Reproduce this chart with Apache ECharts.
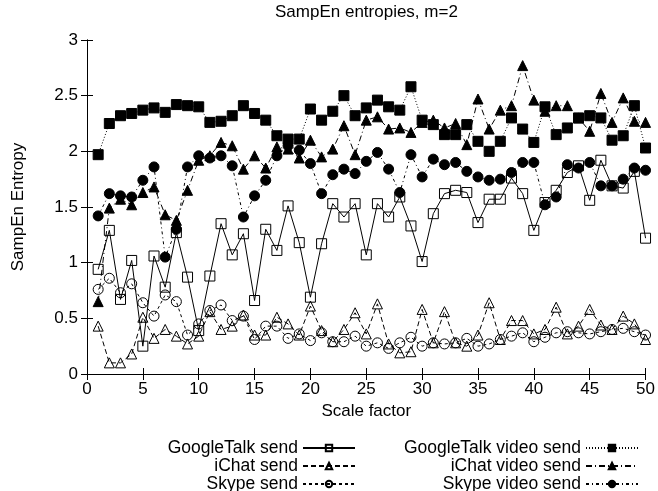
<!DOCTYPE html>
<html>
<head>
<meta charset="utf-8">
<script src="https://cdn.jsdelivr.net/npm/echarts@6/dist/echarts.min.js"></script>
<style>html,body{margin:0;padding:0;background:#fff;}#c{width:658px;height:491px;}</style>
</head>
<body>
<div id="c"></div>
<script>
var scaleFactors = [1,2,3,4,5,6,7,8,9,10,11,12,13,14,15,16,17,18,19,20,21,22,23,24,25,26,27,28,29,30,31,32,33,34,35,36,37,38,39,40,41,42,43,44,45,46,47,48,49,50];
var googleTalkSend = [0.94,1.29,0.67,1.02,0.25,1.06,0.78,1.27,0.87,0.39,0.88,1.35,1.07,1.26,0.66,1.30,1.11,1.51,1.18,0.69,1.17,1.53,1.41,1.53,1.07,1.53,1.41,1.59,1.33,1.01,1.44,1.62,1.65,1.63,1.36,1.57,1.57,1.76,1.62,1.29,1.54,1.65,1.81,1.87,1.56,1.92,1.69,1.67,1.82,1.22];
var iChatSend = [0.43,0.10,0.10,0.18,0.51,0.32,0.40,0.34,0.27,0.34,0.56,0.40,0.43,0.53,0.35,0.35,0.51,0.45,0.35,0.61,0.39,0.29,0.40,0.55,0.36,0.63,0.27,0.19,0.20,0.58,0.28,0.56,0.28,0.25,0.35,0.64,0.31,0.48,0.48,0.36,0.40,0.60,0.36,0.43,0.58,0.44,0.40,0.52,0.45,0.31];
var skypeSend = [0.76,0.86,0.73,0.81,0.64,0.52,0.71,0.65,0.35,0.45,0.57,0.62,0.48,0.52,0.31,0.43,0.43,0.32,0.36,0.30,0.37,0.29,0.29,0.34,0.25,0.28,0.23,0.28,0.33,0.25,0.28,0.27,0.28,0.32,0.25,0.27,0.31,0.34,0.37,0.29,0.33,0.37,0.38,0.37,0.36,0.38,0.40,0.41,0.38,0.35];
var googleTalkVideoSend = [1.97,2.25,2.32,2.34,2.37,2.39,2.35,2.42,2.41,2.40,2.26,2.27,2.32,2.41,2.34,2.28,2.14,2.11,2.11,2.38,2.28,2.36,2.50,2.32,2.39,2.46,2.40,2.37,2.58,2.28,2.24,2.15,2.15,2.24,2.09,2.00,2.09,2.30,2.20,2.08,2.40,2.15,2.21,2.30,2.32,2.30,2.10,2.14,2.41,2.03];
var iChatVideoSend = [0.65,1.49,1.57,1.52,1.63,1.68,1.43,1.38,1.65,1.92,1.96,2.08,2.05,1.84,1.96,1.85,2.04,2.02,1.94,2.10,1.95,2.02,2.23,1.97,2.28,2.31,2.20,2.21,2.17,2.26,2.28,2.21,2.25,2.06,2.47,2.20,2.37,2.41,2.77,2.46,2.36,2.41,2.41,2.30,2.18,2.52,2.26,2.48,2.27,2.26];
var skypeVideoSend = [1.42,1.62,1.60,1.59,1.74,1.86,1.05,1.30,1.86,1.96,1.94,1.96,1.87,1.41,1.60,1.74,1.96,2.05,2.01,1.89,1.62,1.79,1.84,1.80,1.91,1.99,1.84,1.63,1.97,1.77,1.93,1.88,1.90,1.82,1.77,1.74,1.75,1.81,1.90,1.90,1.52,1.59,1.88,1.85,1.90,1.69,1.69,1.75,1.85,1.83];
var seriesNames = ['GoogleTalk send','iChat send','Skype send','GoogleTalk video send','iChat video send','Skype video send'];

function pairs(ys){ return scaleFactors.map(function(x,i){ return [x, ys[i]]; }); }
var FONT = 'Liberation Sans';
var FS = 17;
function mk(name, ys, symbol, filled, dash, size){
  return {
    name: name, type: 'line', data: pairs(ys), symbol: symbol, symbolSize: size,
    showAllSymbol: true, animation: false,
    lineStyle: {color: '#000', width: 1, type: dash},
    itemStyle: filled ? {color: '#000', borderColor: '#000', borderWidth: 1} : {color: 'rgba(0,0,0,0)', borderColor: '#000', borderWidth: 1},
    emphasis: {disabled: true}
  };
}
var axisCommon = {
  axisLine: {show: true, lineStyle: {color: '#000', width: 1}},
  axisTick: {show: true, inside: true, length: 6, lineStyle: {color: '#000'}},
  splitLine: {show: false}
};
function legendAt(names, right){
  return {data: names, orient: 'vertical', align: 'right', right: right, top: 439, height: 80,
    itemWidth: 52, itemHeight: 8, itemGap: 0, selectedMode: false, padding: 0,
    textStyle: {fontFamily: FONT, fontSize: 17.5, color: '#000', lineHeight: 16}};
}
var chart = echarts.init(document.getElementById('c'), null, {renderer: 'canvas'});
chart.setOption({
  backgroundColor: '#fff',
  animation: false,
  title: {text: 'SampEn entropies, m=2', left: 275, top: 4, padding: 0, textStyle: {fontFamily: FONT, fontSize: FS, fontWeight: 'normal', color: '#000'}},
  grid: {left: 87, right: 10, top: 40, bottom: 117, containLabel: false},
  xAxis: [
    Object.assign({type: 'value', min: 0, max: 50, interval: 5, position: 'bottom',
      name: 'Scale factor', nameLocation: 'middle', nameGap: 29,
      nameTextStyle: {fontFamily: FONT, fontSize: FS, color: '#000'},
      axisLabel: {fontFamily: FONT, fontSize: FS, color: '#000', margin: 7}}, axisCommon),
    Object.assign({type: 'value', min: 0, max: 50, interval: 5, position: 'top', axisLabel: {show: false}}, axisCommon)
  ],
  yAxis: [
    Object.assign({type: 'value', min: 0, max: 3, interval: 0.5, position: 'left',
      name: 'SampEn Entropy', nameLocation: 'middle', nameGap: 60,
      nameTextStyle: {fontFamily: FONT, fontSize: FS, color: '#000'},
      axisLabel: {fontFamily: FONT, fontSize: FS, color: '#000', margin: 9}}, axisCommon),
    Object.assign({type: 'value', min: 0, max: 3, interval: 0.5, position: 'right', axisLabel: {show: false}}, axisCommon)
  ],
  legend: [legendAt(seriesNames.slice(0,3), 302), legendAt(seriesNames.slice(3), 19)],
  series: [
    mk(seriesNames[0], googleTalkSend, 'rect', false, 'solid', 10),
    mk(seriesNames[1], iChatSend, 'triangle', false, [5,3], 10),
    mk(seriesNames[2], skypeSend, 'circle', false, [3,3], 10),
    mk(seriesNames[3], googleTalkVideoSend, 'rect', true, [1,2], 10),
    mk(seriesNames[4], iChatVideoSend, 'triangle', true, [6,3,1,3], 10),
    mk(seriesNames[5], skypeVideoSend, 'circle', true, [3,3,1,3], 10)
  ]
});
</script>
</body>
</html>
